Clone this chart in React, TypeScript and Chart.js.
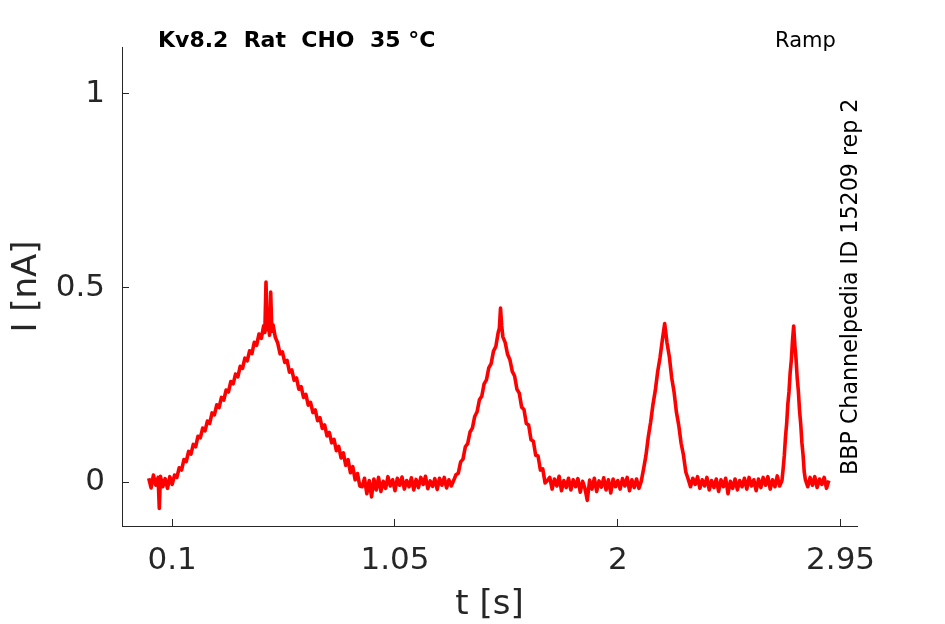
import { useRef, useEffect } from 'react';
import { Chart, registerables } from 'chart.js';

Chart.register(...registerables);

// Kv8.2 ramp protocol response, pairs of [t (s), I (nA)]
const hold1: [number, number][] = [
    [0.0, 0.01], [0.01, -0.015], [0.02, 0.018], [0.03, -0.008], [0.04, 0.012],
    [0.045, -0.068], [0.05, 0.015], [0.06, -0.012], [0.07, 0.009], [0.08, -0.016],
    [0.09, 0.014], [0.1, -0.006],
];

const rampSlow: [number, number][] = [
    [0.11, 0.018], [0.12, 0.012], [0.13, 0.037], [0.14, 0.031], [0.15, 0.058],
    [0.16, 0.053], [0.17, 0.079], [0.18, 0.072], [0.19, 0.097], [0.2, 0.091],
    [0.21, 0.118], [0.22, 0.114], [0.23, 0.139], [0.24, 0.132], [0.25, 0.157],
    [0.26, 0.151], [0.27, 0.178], [0.28, 0.173], [0.29, 0.199], [0.3, 0.192],
    [0.31, 0.218], [0.32, 0.211], [0.33, 0.237], [0.34, 0.232], [0.35, 0.259],
    [0.36, 0.253], [0.37, 0.278], [0.38, 0.271], [0.39, 0.298], [0.4, 0.293],
    [0.41, 0.319], [0.42, 0.312], [0.43, 0.338], [0.44, 0.331], [0.45, 0.36],
    [0.46, 0.352], [0.47, 0.381], [0.48, 0.37], [0.49, 0.402], [0.495, 0.385],
    [0.5, 0.515], [0.505, 0.392], [0.51, 0.418], [0.515, 0.378], [0.52, 0.489],
    [0.525, 0.388], [0.53, 0.405], [0.54, 0.372], [0.55, 0.358], [0.56, 0.33],
    [0.57, 0.335], [0.58, 0.308], [0.59, 0.313], [0.6, 0.283], [0.61, 0.289],
    [0.62, 0.262], [0.63, 0.268], [0.64, 0.239], [0.65, 0.246], [0.66, 0.218],
    [0.67, 0.226], [0.68, 0.198], [0.69, 0.205], [0.7, 0.179], [0.71, 0.186],
    [0.72, 0.158], [0.73, 0.166], [0.74, 0.138], [0.75, 0.147], [0.76, 0.119],
    [0.77, 0.128], [0.78, 0.101], [0.79, 0.11], [0.8, 0.081], [0.81, 0.092],
    [0.82, 0.062], [0.83, 0.075], [0.84, 0.043], [0.85, 0.058], [0.86, 0.024],
    [0.87, 0.04], [0.88, 0.006], [0.89, 0.022], [0.9, -0.01],
];

const hold2: [number, number][] = [
    [0.91, -0.012], [0.92, 0.01], [0.93, -0.03], [0.94, 0.004], [0.95, -0.038],
    [0.96, 0.008], [0.97, -0.02], [0.98, 0.012], [0.99, -0.024], [1.0, 0.002],
    [1.01, -0.016], [1.02, 0.014], [1.03, -0.01], [1.04, 0.006], [1.05, -0.022],
    [1.06, 0.01], [1.07, -0.008], [1.08, 0.013], [1.09, -0.018], [1.1, 0.004],
    [1.11, -0.012], [1.12, 0.011], [1.13, -0.02], [1.14, 0.007], [1.15, -0.014],
    [1.16, 0.012], [1.17, -0.006], [1.18, 0.015], [1.19, -0.017], [1.2, 0.003],
    [1.21, -0.011], [1.22, 0.009], [1.23, -0.019], [1.24, 0.01], [1.25, -0.008],
    [1.26, 0.012], [1.27, -0.015], [1.28, 0.006], [1.29, -0.01], [1.3, 0.004],
];

const rampMedium: [number, number][] = [
    [1.31, 0.019], [1.32, 0.023], [1.33, 0.052], [1.34, 0.059], [1.35, 0.091],
    [1.36, 0.099], [1.37, 0.129], [1.38, 0.139], [1.39, 0.169], [1.4, 0.181],
    [1.41, 0.212], [1.42, 0.221], [1.43, 0.253], [1.44, 0.263], [1.45, 0.294],
    [1.46, 0.305], [1.47, 0.337], [1.48, 0.349], [1.49, 0.385], [1.495, 0.396],
    [1.5, 0.448], [1.505, 0.402], [1.51, 0.374], [1.52, 0.359], [1.53, 0.329],
    [1.54, 0.315], [1.55, 0.285], [1.56, 0.273], [1.57, 0.239], [1.58, 0.229],
    [1.59, 0.193], [1.6, 0.187], [1.61, 0.151], [1.62, 0.147], [1.63, 0.109],
    [1.64, 0.105], [1.65, 0.069], [1.66, 0.067], [1.67, 0.031], [1.68, 0.034],
    [1.69, -0.002], [1.7, 0.004],
];

const hold3: [number, number][] = [
    [1.71, 0.012], [1.72, -0.018], [1.73, 0.008], [1.74, -0.01], [1.75, 0.015],
    [1.76, -0.022], [1.77, 0.004], [1.78, -0.014], [1.79, 0.01], [1.8, -0.02],
    [1.81, 0.006], [1.82, -0.012], [1.83, 0.009], [1.84, -0.026], [1.85, 0.002],
    [1.86, -0.016], [1.87, -0.047], [1.88, 0.005], [1.89, -0.018], [1.9, 0.01],
    [1.91, -0.024], [1.92, 0.003], [1.93, -0.013], [1.94, 0.011], [1.95, -0.02],
    [1.96, 0.006], [1.97, -0.028], [1.98, 0.008], [1.99, -0.012], [2.0, 0.004],
    [2.01, -0.018], [2.02, 0.009], [2.03, -0.01], [2.04, 0.012], [2.05, -0.022],
    [2.06, 0.006], [2.07, -0.014], [2.08, 0.008], [2.09, -0.016], [2.1, 0.002],
];

const rampFast: [number, number][] = [
    [2.11, 0.034], [2.12, 0.068], [2.13, 0.116], [2.14, 0.154], [2.15, 0.2],
    [2.16, 0.236], [2.17, 0.284], [2.18, 0.32], [2.19, 0.366], [2.2, 0.408],
    [2.21, 0.358], [2.22, 0.322], [2.23, 0.268], [2.24, 0.232], [2.25, 0.18],
    [2.26, 0.146], [2.27, 0.1], [2.28, 0.07], [2.29, 0.026], [2.3, 0.008],
];

const hold4: [number, number][] = [
    [2.31, -0.012], [2.32, 0.01], [2.33, -0.006], [2.34, 0.014], [2.35, -0.016],
    [2.36, 0.006], [2.37, -0.01], [2.38, 0.012], [2.39, -0.02], [2.4, 0.004],
    [2.41, -0.014], [2.42, 0.008], [2.43, -0.024], [2.44, 0.006], [2.45, -0.012],
    [2.46, 0.01], [2.47, -0.03], [2.48, 0.002], [2.49, -0.016], [2.5, 0.008],
    [2.51, -0.02], [2.52, 0.004], [2.53, -0.012], [2.54, 0.01], [2.55, -0.018],
    [2.56, 0.012], [2.57, -0.01], [2.58, 0.006], [2.59, -0.022], [2.6, 0.008],
    [2.61, -0.014], [2.62, 0.012], [2.63, -0.008], [2.64, 0.014], [2.65, -0.018],
    [2.66, 0.006], [2.67, -0.012], [2.68, 0.016], [2.69, -0.01], [2.7, 0.004],
];

const rampFastest: [number, number][] = [
    [2.705, 0.034], [2.71, 0.068], [2.715, 0.116], [2.72, 0.15], [2.725, 0.2],
    [2.73, 0.232], [2.735, 0.282], [2.74, 0.314], [2.745, 0.364], [2.75, 0.402],
    [2.755, 0.352], [2.76, 0.318], [2.765, 0.268], [2.77, 0.234], [2.775, 0.184],
    [2.78, 0.15], [2.785, 0.102], [2.79, 0.07], [2.795, 0.026], [2.8, 0.006],
];

const hold5: [number, number][] = [
    [2.81, -0.012], [2.82, 0.012], [2.83, -0.008], [2.84, 0.014], [2.85, -0.014],
    [2.86, 0.008], [2.87, -0.006], [2.88, 0.012], [2.89, -0.016], [2.9, 0.004],
];

const xTicks = [0.1, 1.05, 2, 2.95];
const yTicks = [0, 0.5, 1];

const titleText = 'Kv8.2  Rat  CHO  35 °C';
const protocolText = 'Ramp';
const sourceText = 'BBP Channelpedia ID 15209 rep 2';

const FONT = '"DejaVu Sans", sans-serif';
const AXIS_COLOR = '#262626';

// free text around the axes (title, protocol name, data source)
const labelsPlugin = {
    id: 'figureLabels',
    afterDraw(chart: Chart) {
        const { ctx } = chart;
        ctx.save();
        ctx.fillStyle = '#000';
        ctx.textAlign = 'left';
        ctx.textBaseline = 'alphabetic';
        ctx.font = `bold 22px ${FONT}`;
        ctx.fillText(titleText, 158, 47);
        ctx.font = `21px ${FONT}`;
        ctx.fillText(protocolText, 775, 47);
        ctx.translate(857, 475);
        ctx.rotate(-Math.PI / 2);
        ctx.font = `22.2px ${FONT}`;
        ctx.fillText(sourceText, 0, 0);
        ctx.restore();
    },
};

const App = () => {
    const canvasRef = useRef<HTMLCanvasElement | null>(null);
    const chartRef = useRef<Chart | null>(null);

    useEffect(() => {
        if (!canvasRef.current) return;
        chartRef.current?.destroy();

        const trace = [
            ...hold1, ...rampSlow, ...hold2, ...rampMedium, ...hold3,
            ...rampFast, ...hold4, ...rampFastest, ...hold5,
        ].map(([t, i]) => ({ x: t, y: i }));

        chartRef.current = new Chart(canvasRef.current, {
            type: 'line',
            data: {
                datasets: [
                    {
                        data: trace,
                        borderColor: '#ff0000',
                        borderWidth: 3.6,
                        borderJoinStyle: 'round',
                        pointRadius: 0,
                        tension: 0,
                        fill: false,
                    },
                ],
            },
            options: {
                animation: false,
                responsive: true,
                maintainAspectRatio: false,
                layout: { padding: { left: 0, right: 88, top: 47, bottom: 0 } },
                plugins: {
                    legend: { display: false },
                    tooltip: { enabled: false },
                },
                scales: {
                    x: {
                        type: 'linear',
                        min: -0.114,
                        max: 3.02,
                        afterBuildTicks: (scale) => {
                            scale.ticks = xTicks.map((value) => ({ value }));
                        },
                        afterFit: (scale) => {
                            scale.height = 98;
                        },
                        ticks: {
                            autoSkip: false,
                            maxRotation: 0,
                            padding: 23,
                            color: AXIS_COLOR,
                            font: { family: FONT, size: 31 },
                            callback: (v) => String(v),
                        },
                        grid: {
                            drawOnChartArea: false,
                            drawTicks: true,
                            tickLength: -7,
                            color: AXIS_COLOR,
                        },
                        border: { display: true, color: AXIS_COLOR, width: 1 },
                        title: {
                            display: true,
                            text: 't [s]',
                            color: AXIS_COLOR,
                            font: { family: FONT, size: 34 },
                            padding: { top: 0, bottom: -2 },
                        },
                    },
                    y: {
                        type: 'linear',
                        min: -0.113,
                        max: 1.12,
                        afterBuildTicks: (scale) => {
                            scale.ticks = yTicks.map((value) => ({ value }));
                        },
                        afterFit: (scale) => {
                            scale.width = 122;
                        },
                        ticks: {
                            autoSkip: false,
                            padding: 24,
                            color: AXIS_COLOR,
                            font: { family: FONT, size: 31 },
                            callback: (v) => String(v),
                        },
                        grid: {
                            drawOnChartArea: false,
                            drawTicks: true,
                            tickLength: -7,
                            color: AXIS_COLOR,
                        },
                        border: { display: true, color: AXIS_COLOR, width: 1 },
                        title: {
                            display: true,
                            text: 'I [nA]',
                            color: AXIS_COLOR,
                            font: { family: FONT, size: 34 },
                            padding: { top: 7, bottom: 0 },
                        },
                    },
                },
            },
            plugins: [labelsPlugin],
        });

        return () => {
            chartRef.current?.destroy();
            chartRef.current = null;
        };
    }, []);

    return (
        <div style={{ position: 'absolute', left: 0, top: 0, width: 945, height: 624 }}>
            <canvas ref={canvasRef} />
        </div>
    );
};

export default App;
